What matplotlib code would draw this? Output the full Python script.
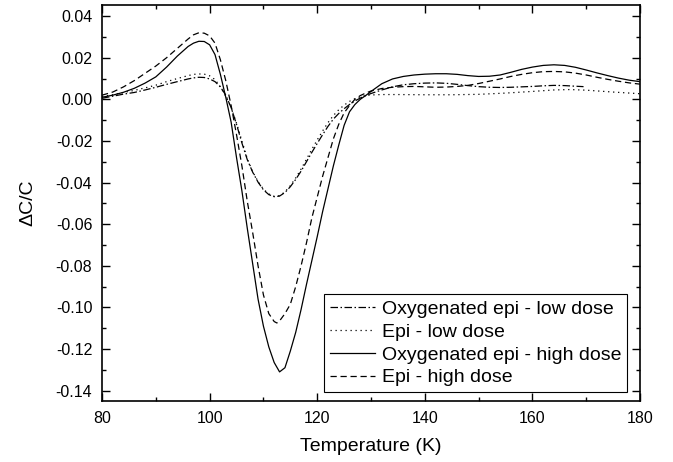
import matplotlib
matplotlib.use("Agg")
import matplotlib.pyplot as plt
from matplotlib.ticker import MultipleLocator, FormatStrFormatter

plt.rcParams['font.family'] = ['Liberation Sans', 'DejaVu Sans']

# Oxygenated epi - low dose (dash-dot)
T_oxy_low = [80, 82, 84, 86, 88, 90, 92, 94, 96, 97, 98, 99, 100, 101, 102, 103, 104, 105,
             106, 107, 108, 109, 110, 111, 112, 113, 114, 115, 116, 117, 118, 119, 120, 121,
             122, 123, 124, 125, 126, 127, 128, 129, 130, 132, 134, 136, 138, 140, 142, 144,
             146, 148, 150, 152, 154, 156, 158, 160, 162, 164, 166, 168, 169.5]
v_oxy_low = [0.0005, 0.0015, 0.0025, 0.0033, 0.0045, 0.0058, 0.0072, 0.0085, 0.0098, 0.0103,
             0.0106, 0.0105, 0.0098, 0.0085, 0.0060, 0.0020, -0.0040, -0.0120, -0.0210,
             -0.0290, -0.0350, -0.0398, -0.0435, -0.0458, -0.0468, -0.0465, -0.0448, -0.0420,
             -0.0385, -0.0345, -0.0300, -0.0255, -0.0212, -0.0170, -0.0130, -0.0095, -0.0068,
             -0.0045, -0.0025, -0.0008, 0.0006, 0.0018, 0.0028, 0.0045, 0.0060, 0.0070, 0.0075,
             0.0078, 0.0079, 0.0077, 0.0072, 0.0066, 0.0061, 0.0058, 0.0057, 0.0058, 0.0060,
             0.0062, 0.0065, 0.0067, 0.0066, 0.0063, 0.0061]

# Epi - low dose (dotted)
T_epi_low = [80, 82, 84, 86, 88, 90, 92, 94, 96, 97, 98, 99, 100, 101, 102, 103, 104, 105,
             106, 107, 108, 109, 110, 111, 112, 113, 114, 115, 116, 117, 118, 119, 120, 121,
             122, 123, 124, 125, 126, 127, 128, 129, 130, 132, 135, 140, 145, 150, 155, 160,
             164, 167, 170, 175, 180]
v_epi_low = [0.0013, 0.0022, 0.0033, 0.0043, 0.0055, 0.0068, 0.0085, 0.0100, 0.0114, 0.0120,
             0.0122, 0.0121, 0.0113, 0.0095, 0.0060, 0.0015, -0.0040, -0.0115, -0.0200,
             -0.0285, -0.0348, -0.0395, -0.0432, -0.0455, -0.0466, -0.0463, -0.0445, -0.0415,
             -0.0378, -0.0335, -0.0288, -0.0240, -0.0195, -0.0152, -0.0112, -0.0078, -0.0050,
             -0.0028, -0.0010, 0.0003, 0.0012, 0.0018, 0.0021, 0.0023, 0.0023, 0.0022, 0.0022,
             0.0024, 0.0030, 0.0038, 0.0045, 0.0047, 0.0044, 0.0035, 0.0027]

# Oxygenated epi - high dose (solid)
T_oxy_high = [80, 82, 84, 86, 88, 90, 92, 94, 96, 97, 98, 99, 100, 101, 102, 103, 104, 105,
              106, 107, 108, 109, 110, 111, 112, 113, 114, 115, 116, 117, 118, 119, 120, 121,
              122, 123, 124, 125, 126, 127, 128, 129, 130, 132, 134, 136, 138, 140, 142, 144,
              146, 148, 150, 152, 154, 156, 158, 160, 162, 164, 166, 168, 170, 172, 174, 176,
              178, 180]
v_oxy_high = [0.0010, 0.0020, 0.0034, 0.0053, 0.0078, 0.0108, 0.0155, 0.0208, 0.0254, 0.0270,
              0.0279, 0.0278, 0.0262, 0.0215, 0.0120, 0.0010, -0.0110, -0.0280, -0.0440,
              -0.0620, -0.0790, -0.0960, -0.1090, -0.1190, -0.1265, -0.1310, -0.1290, -0.1210,
              -0.1120, -0.1010, -0.0890, -0.0775, -0.0660, -0.0540, -0.0430, -0.0320, -0.0220,
              -0.0125, -0.0060, -0.0025, 0.0000, 0.0018, 0.0038, 0.0075, 0.0098, 0.0110, 0.0117,
              0.0121, 0.0123, 0.0123, 0.0120, 0.0114, 0.0110, 0.0111, 0.0117, 0.0130, 0.0144,
              0.0155, 0.0163, 0.0166, 0.0163, 0.0154, 0.0141, 0.0127, 0.0114, 0.0102, 0.0092,
              0.0085]

# Epi - high dose (dashed)
T_epi_high = [80, 82, 84, 86, 88, 90, 92, 94, 96, 97, 98, 99, 100, 101, 102, 103, 104, 105,
              106, 107, 108, 109, 110, 111, 112, 112.5, 113, 114, 115, 116, 117, 118, 119, 120,
              121, 122, 123, 124, 125, 126, 127, 128, 129, 130, 132, 134, 136, 138, 140, 142,
              144, 146, 148, 150, 152, 154, 156, 158, 160, 162, 164, 166, 168, 170, 172, 174,
              176, 178, 180]
v_epi_high = [0.0020, 0.0035, 0.0060, 0.0090, 0.0125, 0.0160, 0.0200, 0.0245, 0.0290, 0.0310,
              0.0320, 0.0318, 0.0305, 0.0270, 0.0190, 0.0090, -0.0030, -0.0170, -0.0320,
              -0.0490, -0.0640, -0.0800, -0.0940, -0.1030, -0.1068, -0.1075, -0.1065, -0.1030,
              -0.0985, -0.0900, -0.0800, -0.0690, -0.0570, -0.0470, -0.0370, -0.0280, -0.0190,
              -0.0120, -0.0065, -0.0030, 0.0000, 0.0018, 0.0030, 0.0040, 0.0052, 0.0058, 0.0061,
              0.0062, 0.0060, 0.0058, 0.0059, 0.0062, 0.0067, 0.0076, 0.0087, 0.0098, 0.0110,
              0.0120, 0.0128, 0.0133, 0.0134, 0.0132, 0.0126, 0.0117, 0.0106, 0.0096, 0.0087,
              0.0079, 0.0073]

labels = ["Oxygenated epi - low dose", "Epi - low dose",
          "Oxygenated epi - high dose", "Epi - high dose"]

fig = plt.figure(figsize=(6.73, 4.62), dpi=100)
ax = fig.add_axes([0.1516, 0.132, 0.7994, 0.857])

lw = 0.9
ax.plot(T_oxy_low, v_oxy_low, color='black', lw=lw, linestyle=(0, (6, 2, 1.2, 2)), label=labels[0])
ax.plot(T_epi_low, v_epi_low, color='black', lw=lw, linestyle=(0, (1, 3)), label=labels[1])
ax.plot(T_oxy_high, v_oxy_high, color='black', lw=lw, linestyle='-', label=labels[2])
ax.plot(T_epi_high, v_epi_high, color='black', lw=lw, linestyle=(0, (5, 3)), label=labels[3])

ax.set_xlim(80, 180)
ax.set_ylim(-0.145, 0.0453)
ax.xaxis.set_major_locator(MultipleLocator(20))
ax.xaxis.set_minor_locator(MultipleLocator(10))
ax.yaxis.set_major_locator(MultipleLocator(0.02))
ax.yaxis.set_minor_locator(MultipleLocator(0.01))
ax.yaxis.set_major_formatter(FormatStrFormatter('%.2f'))
ax.tick_params(which='both', direction='in', top=True, right=True, labelsize=11.5, width=1)
ax.tick_params(which='major', length=6, pad=7)
ax.tick_params(which='minor', length=3)
for s in ax.spines.values():
    s.set_linewidth(1.2)

ax.set_xlabel("Temperature (K)", fontsize=14, labelpad=9)
ax.set_ylabel("ΔC/C", fontsize=14, labelpad=14)

leg = ax.legend(loc='lower right', bbox_to_anchor=(0.976, 0.022), fontsize=14, frameon=True,
                fancybox=False, edgecolor='black', framealpha=1, handlelength=2.3,
                handletextpad=0.35, labelspacing=0.27, borderpad=0.3, borderaxespad=0.0)
leg.get_frame().set_linewidth(0.8)

fig.savefig("out.png", dpi=100)
